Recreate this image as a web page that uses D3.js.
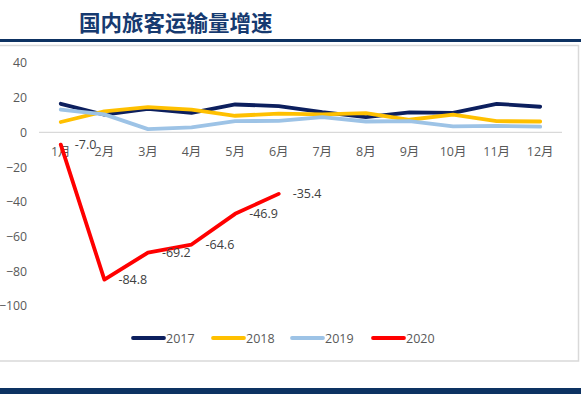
<!DOCTYPE html>
<html><head><meta charset="utf-8">
<script src="https://cdn.jsdelivr.net/npm/d3@7/dist/d3.min.js"></script>
<style>body{margin:0;background:#fff;}svg{display:block;}</style>
</head><body>
<svg id="c" width="581" height="394"></svg>
<script>
const months = ["1月","2月","3月","4月","5月","6月","7月","8月","9月","10月","11月","12月"];
const yTicks = [40,20,0,-20,-40,-60,-80,-100];
const s2017 = [16.5,10.2,13.6,11.3,16.1,15.2,11.7,8.8,11.5,11.3,16.5,14.8];
const s2018 = [6.0,12.1,14.6,13.1,9.6,10.8,10.4,11.1,7.3,10.2,6.5,6.3];
const s2019 = [13.2,10.4,1.9,2.9,6.5,6.7,8.8,6.3,6.5,3.5,3.8,3.3];
const s2020 = [-7.0,-84.8,-69.2,-64.6,-46.9,-35.4];
const seriesNames = ["2017","2018","2019","2020"];
const colors = ["#0c1f5e","#ffc000","#9dc3e6","#ff0000"];
const title = "国内旅客运输量增速";

const svg = d3.select("#c");
const font = "'Open Sans','Noto Sans CJK SC',sans-serif";

// title
svg.append("text").attr("x",79).attr("y",31).attr("font-family","'Noto Sans CJK SC',sans-serif")
  .attr("font-weight","bold").attr("font-size",21.5).attr("fill","#163a70").text(title);
svg.append("rect").attr("x",0).attr("y",39).attr("width",581).attr("height",3).attr("fill","#0d3262");
svg.append("rect").attr("x",0).attr("y",388).attr("width",581).attr("height",6).attr("fill","#0d3262");
// frame
svg.append("rect").attr("x",-1).attr("y",45.5).attr("width",579.5).attr("height",315.5)
  .attr("fill","none").attr("stroke","#d9d9d9").attr("stroke-width",1.5);

const x = d3.scaleBand().domain(months).range([39,562]);
const y = d3.scaleLinear().domain([-100,40]).range([306,63]);

// y labels
const yAxis = d3.axisLeft(y).tickValues(yTicks).tickSize(0).tickPadding(0);
const ga = svg.append("g").attr("transform","translate(27,0)").call(yAxis);
ga.select(".domain").remove();
ga.selectAll("text").attr("font-family",font).attr("font-size",12.3).attr("fill","#595959");

// zero line
svg.append("line").attr("x1",39).attr("x2",562).attr("y1",y(0)).attr("y2",y(0))
  .attr("stroke","#d9d9d9").attr("stroke-width",1.3);
// x labels
const xAxis = d3.axisBottom(x).tickSize(0).tickPadding(15);
const gx = svg.append("g").attr("transform",`translate(0,${y(0)})`).call(xAxis);
gx.select(".domain").remove();
gx.selectAll("text").attr("font-family",font).attr("font-size",12.5).attr("fill","#595959");

const cx = m => x(m) + x.bandwidth()/2;
const line = d3.line().x((d,i)=>cx(months[i])).y(d=>y(d));
const all = [s2017,s2018,s2019,s2020];
all.forEach((s,k)=>{
  svg.append("path").attr("d",line(s)).attr("fill","none").attr("stroke",colors[k])
    .attr("stroke-width",3.8).attr("stroke-linejoin","round").attr("stroke-linecap","round");
});
// data labels 2020
svg.selectAll(".lbl").data(s2020).enter().append("text")
  .attr("x",(d,i)=>cx(months[i])+14).attr("y",(d,i)=>y(d)+4.5)
  .attr("font-family",font).attr("font-size",12.5).attr("fill","#404040")
  .text(d=>d.toFixed(1));

// legend
const lg = svg.append("g");
const lx = [133,213,292,373];
seriesNames.forEach((n,k)=>{
  lg.append("line").attr("x1",lx[k]).attr("x2",lx[k]+31).attr("y1",338).attr("y2",338)
    .attr("stroke",colors[k]).attr("stroke-width",3.8).attr("stroke-linecap","round");
  lg.append("text").attr("x",lx[k]+33).attr("y",342.5).attr("font-family",font)
    .attr("font-size",12.5).attr("fill","#595959").text(n);
});
</script>
</body></html>
